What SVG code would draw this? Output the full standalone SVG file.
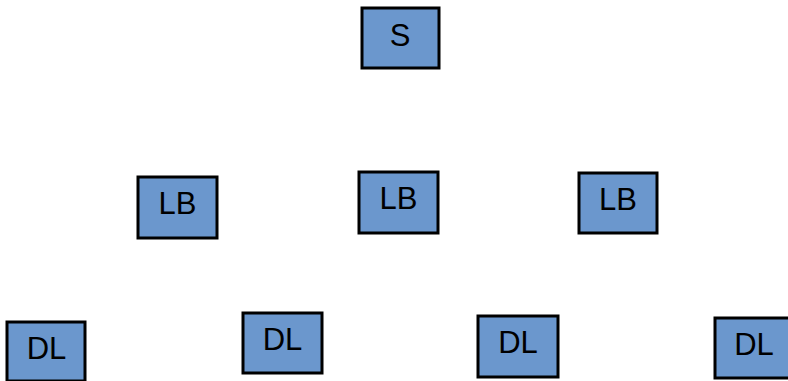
<svg xmlns="http://www.w3.org/2000/svg" width="788" height="381" viewBox="0 0 788 381">
  <style>
    .box { fill: #6b97cd; stroke: #000; stroke-width: 3; }
    .lbl { font-family: "Liberation Sans", Arial, sans-serif; font-size: 31px; fill: #000; text-anchor: middle; }
  </style>
  <rect width="788" height="381" fill="#fff"/>
  <g id="connectors"></g>
  <g id="s">
    <rect class="box" x="362" y="8" width="77" height="60"/>
    <text class="lbl" x="400" y="46">S</text>
  </g>
  <g id="lb1">
    <rect class="box" x="138" y="177" width="79" height="61"/>
    <text class="lbl" x="177.5" y="214">LB</text>
  </g>
  <g id="lb2">
    <rect class="box" x="359" y="172" width="79" height="61"/>
    <text class="lbl" x="398.5" y="209">LB</text>
  </g>
  <g id="lb3">
    <rect class="box" x="579" y="173" width="78" height="60"/>
    <text class="lbl" x="618" y="210">LB</text>
  </g>
  <g id="dl1">
    <rect class="box" x="7" y="322" width="78" height="59"/>
    <text class="lbl" x="46.5" y="359">DL</text>
  </g>
  <g id="dl2">
    <rect class="box" x="243" y="313" width="79" height="60"/>
    <text class="lbl" x="282.5" y="350">DL</text>
  </g>
  <g id="dl3">
    <rect class="box" x="478" y="316" width="80" height="61"/>
    <text class="lbl" x="518" y="353">DL</text>
  </g>
  <g id="dl4">
    <rect class="box" x="715" y="318" width="80" height="60"/>
    <text class="lbl" x="754" y="355">DL</text>
  </g>
</svg>
